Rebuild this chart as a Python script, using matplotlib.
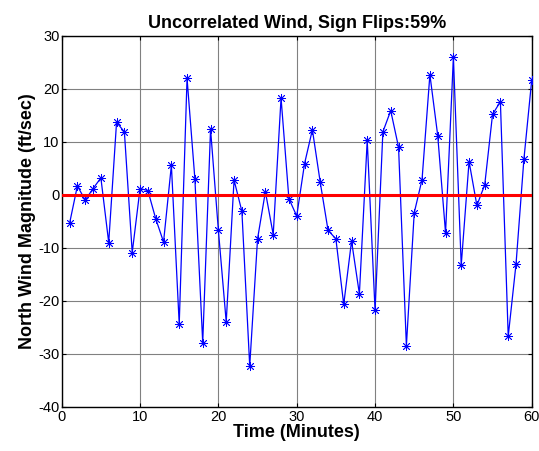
import matplotlib
matplotlib.use("Agg")
import matplotlib.pyplot as plt

plt.rcParams['font.family'] = ['Liberation Sans', 'DejaVu Sans']
plt.rcParams['axes.unicode_minus'] = False

minutos = list(range(1, 61))
vento = [-5.4, 1.7, -1.0, 1.2, 3.2, -9.0, 13.7, 11.9, -10.9, 1.2,
         0.8, -4.5, -8.9, 5.6, -24.4, 22.0, 3.0, -27.9, 12.4, -6.7,
         -24.0, 2.8, -3.1, -32.3, -8.3, 0.6, -7.5, 18.3, -0.7, -4.0,
         5.9, 12.3, 2.4, -6.7, -8.3, -20.7, -8.7, -18.7, 10.3, -21.8,
         11.9, 15.9, 9.0, -28.5, -3.4, 2.9, 22.7, 11.2, -7.2, 26.0,
         -13.3, 6.3, -2.0, 1.9, 15.2, 17.6, -26.7, -13.0, 6.7, 21.7]

xticks = [0, 10, 20, 30, 40, 50, 60]
yticks = [-40, -30, -20, -10, 0, 10, 20, 30]

fig = plt.figure(figsize=(5.39, 4.51), dpi=100)
ax = fig.add_axes([0.1145, 0.0982, 0.872, 0.822])

# asterisco estilo matlab: 8 raios
ax.plot(minutos, vento, color="blue", lw=0.9, marker=(8, 2, 0), ms=6.5,
        markeredgewidth=0.6, zorder=3)
ax.axhline(0, color="red", lw=2.2, zorder=4)

ax.set_xlim(0, 60)
ax.set_ylim(-40, 30)
ax.set_xticks(xticks)
ax.set_yticks(yticks)
ax.grid(True, color="#808080", lw=0.8)
ax.tick_params(direction="in", top=True, right=True, labelsize=10.5, length=3)
ax.tick_params(axis="x", pad=2.5)
ax.tick_params(axis="y", pad=1.5)
for s in ax.spines.values():
    s.set_linewidth(1.0)

ax.set_title("Uncorrelated Wind, Sign Flips:59%", fontsize=13, fontweight="bold", pad=6)
ax.set_xlabel("Time (Minutes)", fontsize=13, fontweight="bold", labelpad=0)
ax.set_ylabel("North Wind Magnitude (ft/sec)", fontsize=13, fontweight="bold", labelpad=2)

fig.savefig("out.png", dpi=100)
